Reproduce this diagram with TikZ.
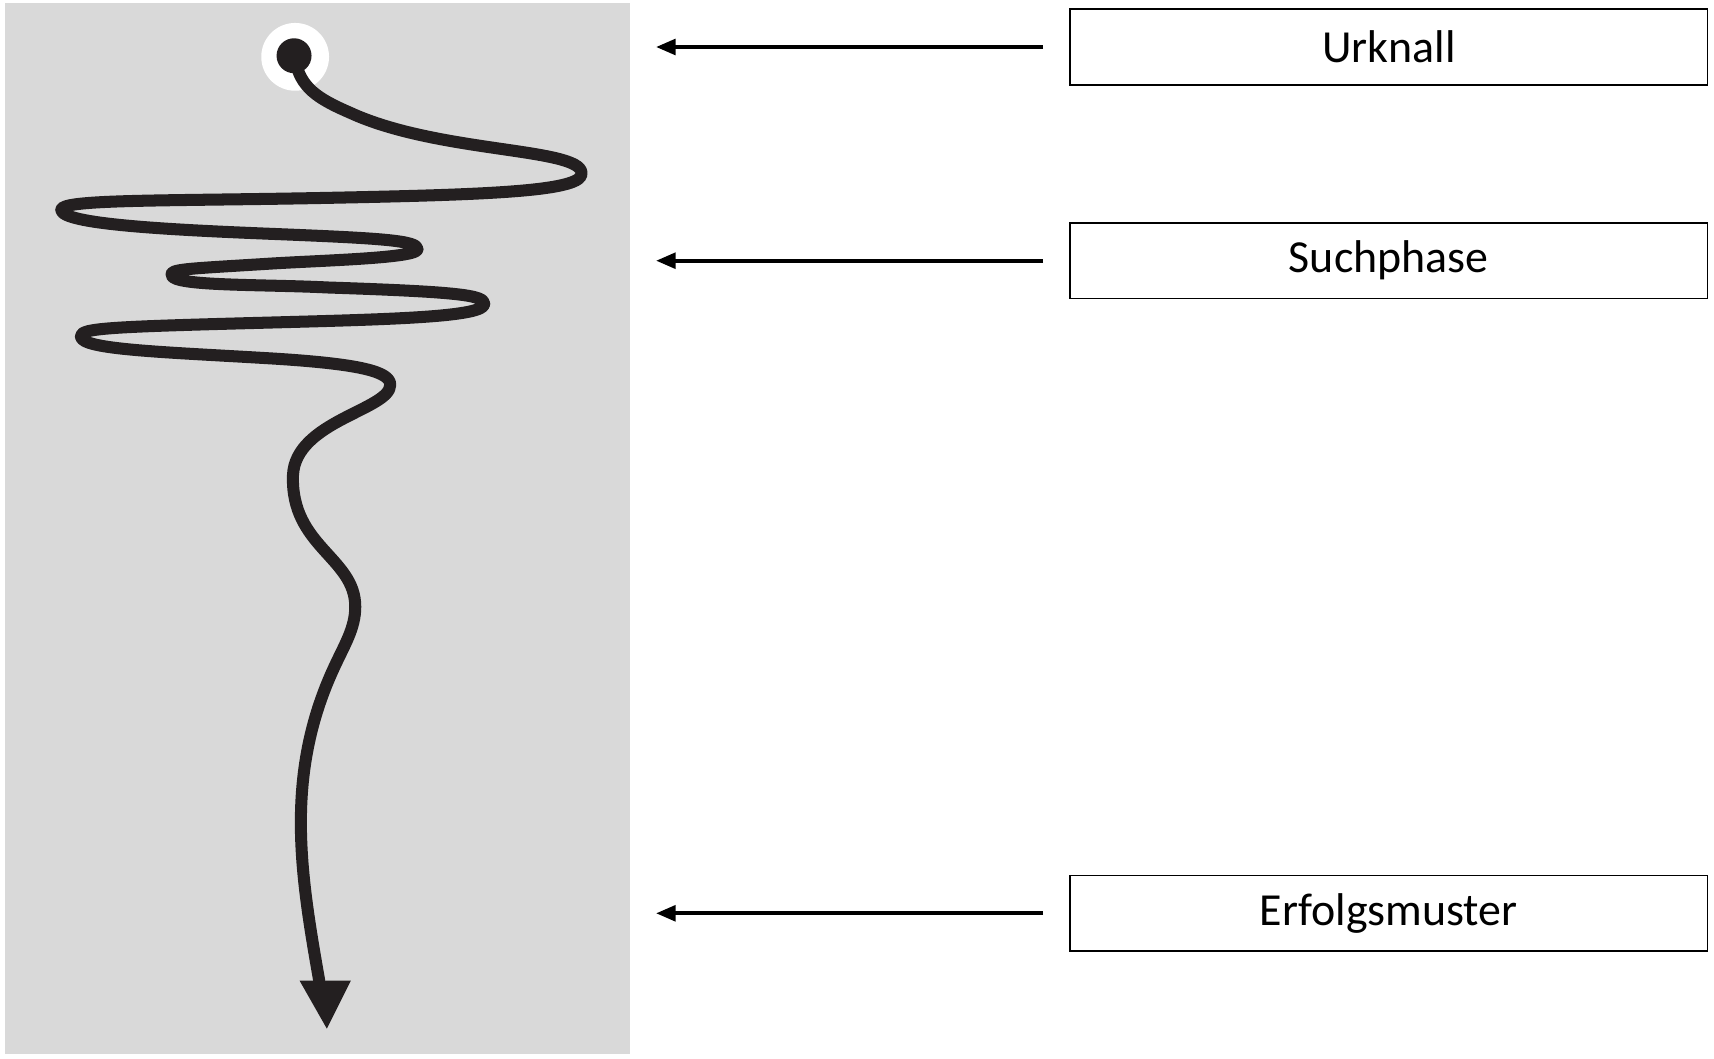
\documentclass[tikz,border=0pt]{standalone}
\usepackage{fontspec}
\setmainfont{Carlito}
\usetikzlibrary{arrows.meta}
\begin{document}
\begin{tikzpicture}[x=0.5pt,y=-0.5pt,
 lbl/.style={draw=black,line width=0.8pt,minimum width=291.5pt,minimum height=34.5pt,inner sep=0pt,font=\fontsize{21}{25}\selectfont},
 ptr/.style={line width=2pt,-{Triangle[length=9pt,width=7pt]}},
 snake/.style={line width=5.5pt,draw=dark,line cap=round,line join=round}]
\definecolor{dark}{HTML}{231F20}
\useasboundingbox (0,0) rectangle (1568,968.5);
\fill[fill={rgb,255:red,217;green,217;blue,217}] (5,3) rectangle (576,964);
\node[lbl] (u) at (1270.5,43) {Urknall};
\node[lbl] (s) at (1270.5,238.5) {Suchphase};
\node[lbl] (e) at (1270.5,835.5) {Erfolgsmuster};
\coordinate (ua) at (600,43); \coordinate (sa) at (600,238.5); \coordinate (ea) at (600,835.5);
\draw[ptr] (u.west)++(-24,0) -- (ua);
\draw[ptr] (s.west)++(-24,0) -- (sa);
\draw[ptr] (e.west)++(-24,0) -- (ea);
\fill[white] (270,52) circle (31);
\draw[snake] (270,55) .. controls (275,80) and (290,90) .. (320,103)
 .. controls (400,140) and (530,135) .. (532,158)
 .. controls (535,175) and (450,178) .. (300,181)
 .. controls (150,184) and (55,182) .. (56,192)
 .. controls (57,205) and (150,210) .. (250,214)
 .. controls (350,218) and (382,220) .. (382,228)
 .. controls (382,236) and (300,238) .. (250,241)
 .. controls (170,246) and (155,246) .. (157,252)
 .. controls (160,262) and (240,260) .. (300,263)
 .. controls (420,267) and (443,270) .. (443,278)
 .. controls (443,290) and (360,292) .. (250,295)
 .. controls (100,299) and (73,300) .. (74,308)
 .. controls (75,320) and (150,322) .. (250,328)
 .. controls (330,333) and (357,340) .. (357,352)
 .. controls (357,375) and (270,385) .. (268,435)
 .. controls (266,500) and (325,510) .. (325,555)
 .. controls (325,575) and (315,590) .. (305,612)
 .. controls (260,710) and (275,800) .. (292,897);
\fill[dark] (274,897) -- (321,897) -- (299,941) -- cycle;
\fill[dark] (269,51) circle (16);
\end{tikzpicture}
\end{document}
